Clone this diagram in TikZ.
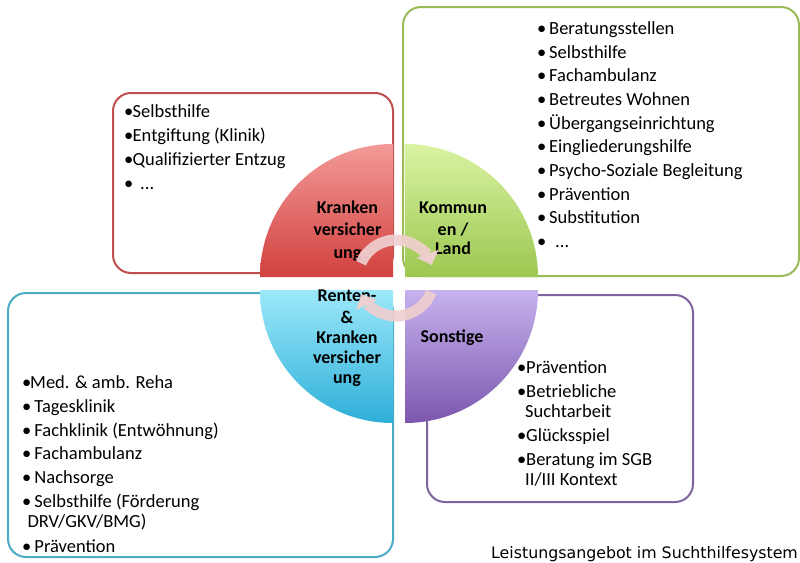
\documentclass[tikz,border=0pt]{standalone}
\usepackage{fontspec}
\setmainfont{Carlito}
\newfontfamily\capfont{DejaVu Sans}
\usetikzlibrary{arrows.meta}
\definecolor{redline}{HTML}{C0504D}
\definecolor{greenline}{HTML}{9BBB59}
\definecolor{blueline}{HTML}{4BACC6}
\definecolor{purpleline}{HTML}{8064A2}
\definecolor{redtop}{HTML}{F29A98}
\definecolor{redbot}{HTML}{D2413E}
\definecolor{greentop}{HTML}{DAF3A2}
\definecolor{greenbot}{HTML}{9CC750}
\definecolor{bluetop}{HTML}{9CE8FA}
\definecolor{bluebot}{HTML}{2EAFD8}
\definecolor{purpletop}{HTML}{C6B2EE}
\definecolor{purplebot}{HTML}{7C57AE}
\definecolor{arrowpink}{HTML}{EFCFCF}
\newcommand{\itm}[2]{\makebox[#1][l]{•}#2}
\begin{document}
\begin{tikzpicture}[x=1pt,y=-1pt,
  listbox/.style={line width=2pt, rounded corners=18pt, fill=white},
  qlabel/.style={font=\fontsize{18}{22}\selectfont\bfseries, anchor=base, inner sep=0pt, text=black},
  item/.style={font=\fontsize{18.5}{22}\selectfont, anchor=base west, inner sep=0pt, text=black},
  cyc/.style={line width=11pt, draw=arrowpink, draw opacity=0.92, -{Triangle[width=23pt,length=12pt]}}]
\useasboundingbox (0,0) rectangle (800,562);
% list boxes
\draw[listbox, draw=redline] (113,93) rectangle (393,273);
\draw[listbox, draw=greenline] (403,7) rectangle (799,276);
\draw[listbox, draw=blueline] (8,293) rectangle (393,557);
\draw[listbox, draw=purpleline] (427,295) rectangle (693,502);
% quadrants
\path[top color=redtop, bottom color=redbot] (393,277) -- ++(-133,0) arc[start angle=180, end angle=270, radius=133] -- cycle;
\path[top color=greentop, bottom color=greenbot] (405,277) -- ++(0,-133) arc[start angle=270, end angle=360, radius=133] -- cycle;
\path[top color=bluetop, bottom color=bluebot] (393,290) -- ++(-133,0) arc[start angle=180, end angle=90, radius=133] -- cycle;
\path[top color=purpletop, bottom color=purplebot] (405,290) -- ++(133,0) arc[start angle=0, end angle=90, radius=133] -- cycle;
% quadrant labels
\node[qlabel] (kv1) at (347.5,213) {Kranken};
\node[qlabel] (kv2) at (347.5,235.5) {versicher};
\node[qlabel] (kv3) at (347.5,258) {ung};
\node[qlabel] (kl1) at (453,213) {Kommun};
\node[qlabel] (kl2) at (453,235) {en /};
\node[qlabel] (kl3) at (453,254) {Land};
\node[qlabel] (rk1) at (347,301.5) {Renten-};
\node[qlabel] (rk2) at (347,323) {\&};
\node[qlabel] (rk3) at (347,343) {Kranken};
\node[qlabel] (rk4) at (347,363.5) {versicher};
\node[qlabel] (rk5) at (347,383.5) {ung};
\node[qlabel] (so1) at (452,342) {Sonstige};
% circular arrows
\coordinate (cc) at (396,278);
\draw[cyc] ([shift={(-157:38)}]cc) arc[start angle=-157, end angle=-20, radius=38];
\draw[cyc] ([shift={(22:38)}]cc) arc[start angle=22, end angle=155, radius=38];
% red list
\node[item] (r1) at (124,117.3) {\itm{8.5pt}{Selbsthilfe}};
\node[item] (r2) at (124,141.3) {\itm{8.5pt}{Entgiftung (Klinik)}};
\node[item] (r3) at (124,165.3) {\itm{8.5pt}{Qualifizierter Entzug}};
\node[item] (r4) at (124,189.3) {\itm{16pt}{...}};
% green list
\node[item] (g1) at (537,34.3) {\itm{12pt}{Beratungsstellen}};
\node[item] (g2) at (537,58) {\itm{12pt}{Selbsthilfe}};
\node[item] (g3) at (537,81.7) {\itm{12pt}{Fachambulanz}};
\node[item] (g4) at (537,105.4) {\itm{12pt}{Betreutes Wohnen}};
\node[item] (g5) at (537,129.1) {\itm{12pt}{Übergangseinrichtung}};
\node[item] (g6) at (537,152.8) {\itm{12pt}{Eingliederungshilfe}};
\node[item] (g7) at (537,176.5) {\itm{12pt}{Psycho-Soziale Begleitung}};
\node[item] (g8) at (537,200.2) {\itm{12pt}{Prävention}};
\node[item] (g9) at (537,223.9) {\itm{12pt}{Substitution}};
\node[item] (g10) at (537,247.6) {\itm{18pt}{...}};
% blue list
\node[item] (b1) at (22,388.4) {\itm{8pt}{Med. \& amb. Reha}};
\node[item] (b2) at (22,412.2) {\itm{12.3pt}{Tagesklinik}};
\node[item] (b3) at (22,436) {\itm{12.3pt}{Fachklinik (Entwöhnung)}};
\node[item] (b4) at (22,459.8) {\itm{12.3pt}{Fachambulanz}};
\node[item] (b5) at (22,483.8) {\itm{12.3pt}{Nachsorge}};
\node[item] (b6) at (22,507.5) {\itm{12.3pt}{Selbsthilfe (Förderung}};
\node[item] (b7) at (27.3,527.8) {DRV/GKV/BMG)};
\node[item] (b8) at (22,552) {\itm{12.3pt}{Prävention}};
% purple list
\node[item] (p1) at (517,373) {\itm{9pt}{Prävention}};
\node[item] (p2) at (517,397.5) {\itm{9pt}{Betriebliche}};
\node[item] (p3) at (525,417) {Suchtarbeit};
\node[item] (p4) at (517,441) {\itm{9pt}{Glücksspiel}};
\node[item] (p5) at (517,465) {\itm{9pt}{Beratung im SGB}};
\node[item] (p6) at (525,485) {II/III Kontext};
% caption
\node[anchor=base west, inner sep=0pt, font=\capfont\fontsize{15.8}{18}\selectfont, text=black] (cap) at (491,558.3) {Leistungsangebot im Suchthilfesystem};
\end{tikzpicture}
\end{document}
